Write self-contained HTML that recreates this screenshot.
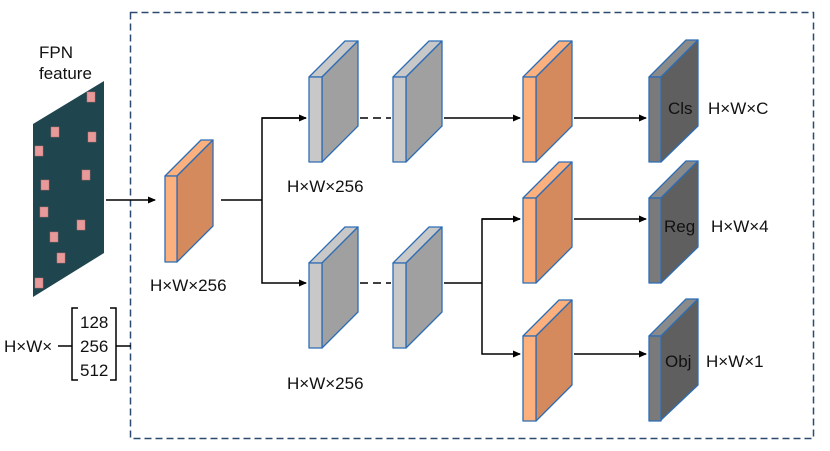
<!DOCTYPE html>
<html><head><meta charset="utf-8"><style>body{margin:0;background:#fff}svg{display:block}text{font-family:"Liberation Sans",sans-serif;font-size:17px;fill:#111}</style></head><body>
<svg width="830" height="451" viewBox="0 0 830 451">
<defs><marker id="a" markerWidth="8" markerHeight="8" refX="7" refY="4" orient="auto" markerUnits="userSpaceOnUse"><path d="M0,0.5 L8,4 L0,7.5 z" fill="#000"/></marker></defs>
<rect x="130.5" y="12.5" width="683" height="426" fill="none" stroke="#2c4a70" stroke-width="1.5" stroke-dasharray="7,4"/>
<!-- FPN -->
<text x="39" y="58">FPN</text><text x="39" y="79">feature</text>
<polygon points="33,124 104,81 104,253 33,297" fill="#1f454e"/>
<g fill="#e89a9a" stroke="#c07070" stroke-width="0.5">
<rect x="87" y="92" width="8" height="10"/><rect x="51" y="127" width="8" height="10"/><rect x="88" y="132" width="8" height="10"/><rect x="35" y="146" width="8" height="10"/><rect x="82" y="170" width="8" height="10"/><rect x="41" y="180" width="8" height="10"/><rect x="40" y="207" width="8" height="10"/><rect x="77" y="220" width="8" height="10"/><rect x="50" y="232" width="8" height="10"/><rect x="57" y="253" width="8" height="10"/><rect x="35" y="278" width="8" height="10"/></g>
<!-- bracket -->
<text x="4" y="352">H×W×</text>
<line x1="58" y1="346" x2="72" y2="346" stroke="#000" stroke-width="1.5"/>
<path d="M78,308 H72 V380 H78" fill="none" stroke="#000" stroke-width="1.5"/>
<path d="M110,308 H116 V380 H110" fill="none" stroke="#000" stroke-width="1.5"/>
<line x1="116" y1="346" x2="131" y2="346" stroke="#000" stroke-width="1.5"/>
<text x="80" y="328">128</text><text x="80" y="352">256</text><text x="80" y="376">512</text>
<!-- connectors -->
<g stroke="#000" stroke-width="1.5" fill="none">
<line x1="106" y1="200" x2="155" y2="200" marker-end="url(#a)"/>
<line x1="221" y1="200" x2="262" y2="200"/>
<polyline points="306,118 262,118 262,283 306,283" marker-end="url(#a)"/>
<line x1="262" y1="118" x2="306" y2="118" marker-end="url(#a)"/>
<line x1="347" y1="118" x2="391" y2="118" stroke-dasharray="8,5"/>
<line x1="347" y1="283" x2="391" y2="283" stroke-dasharray="8,5"/>
<line x1="444" y1="118" x2="520" y2="118" marker-end="url(#a)"/>
<line x1="444" y1="283" x2="482" y2="283"/>
<polyline points="520,219 482,219 482,354 520,354" marker-end="url(#a)"/>
<line x1="482" y1="219" x2="520" y2="219" marker-end="url(#a)"/>
<line x1="574" y1="118" x2="646" y2="118" marker-end="url(#a)"/>
<line x1="574" y1="219" x2="646" y2="219" marker-end="url(#a)"/>
<line x1="574" y1="354" x2="646" y2="354" marker-end="url(#a)"/>
</g>
<g stroke="#2e6db4" stroke-width="1.3" stroke-linejoin="round">
<g><polygon points="165,176 177,176 213,140 201,140" fill="#fbb07e"/><polygon points="177,176 213,140 213,226 177,262" fill="#d48a5c"/><rect x="165" y="176" width="12" height="86" fill="#fbb07e"/></g>
<g fill="#c8c8c8"><polygon points="309,77 322,77 358,41 345,41"/><polygon points="322,77 358,41 358,126 322,162" fill="#a0a0a0"/><rect x="309" y="77" width="13" height="85"/></g>
<g fill="#c8c8c8"><polygon points="393,77 406,77 442,41 429,41"/><polygon points="406,77 442,41 442,126 406,162" fill="#a0a0a0"/><rect x="393" y="77" width="13" height="85"/></g>
<g fill="#c8c8c8"><polygon points="309,263 322,263 358,227 345,227"/><polygon points="322,263 358,227 358,312 322,348" fill="#a0a0a0"/><rect x="309" y="263" width="13" height="85"/></g>
<g fill="#c8c8c8"><polygon points="393,263 406,263 442,227 429,227"/><polygon points="406,263 442,227 442,312 406,348" fill="#a0a0a0"/><rect x="393" y="263" width="13" height="85"/></g>
<g fill="#fbb07e"><polygon points="523,77 536,77 572,41 559,41"/><polygon points="536,77 572,41 572,126 536,162" fill="#d48a5c"/><rect x="523" y="77" width="13" height="85"/></g>
<g fill="#fbb07e"><polygon points="523,198 536,198 572,162 559,162"/><polygon points="536,198 572,162 572,247 536,283" fill="#d48a5c"/><rect x="523" y="198" width="13" height="85"/></g>
<g fill="#fbb07e"><polygon points="523,336 536,336 572,300 559,300"/><polygon points="536,336 572,300 572,385 536,421" fill="#d48a5c"/><rect x="523" y="336" width="13" height="85"/></g>
<g fill="#8a8a8a"><polygon points="649,77 661,77 698,40 686,40"/><polygon points="661,77 698,40 698,126 661,162" fill="#5f5f5f"/><rect x="649" y="77" width="12" height="85" fill="#7a7a7a"/></g>
<g fill="#8a8a8a"><polygon points="649,198 661,198 698,161 686,161"/><polygon points="661,198 698,161 698,247 661,283" fill="#5f5f5f"/><rect x="649" y="198" width="12" height="85" fill="#7a7a7a"/></g>
<g fill="#8a8a8a"><polygon points="649,336 661,336 698,299 686,299"/><polygon points="661,336 698,299 698,385 661,420" fill="#5f5f5f"/><rect x="649" y="336" width="12" height="85" fill="#7a7a7a"/></g>
</g>
<text x="668" y="114">Cls</text><text x="664" y="232">Reg</text><text x="665" y="367">Obj</text>
<text x="708" y="114">H×W×C</text><text x="711" y="232">H×W×4</text><text x="706" y="367">H×W×1</text>
<text x="150" y="291">H×W×256</text>
<text x="287" y="192">H×W×256</text>
<text x="287" y="389">H×W×256</text>
</svg>
</body></html>
